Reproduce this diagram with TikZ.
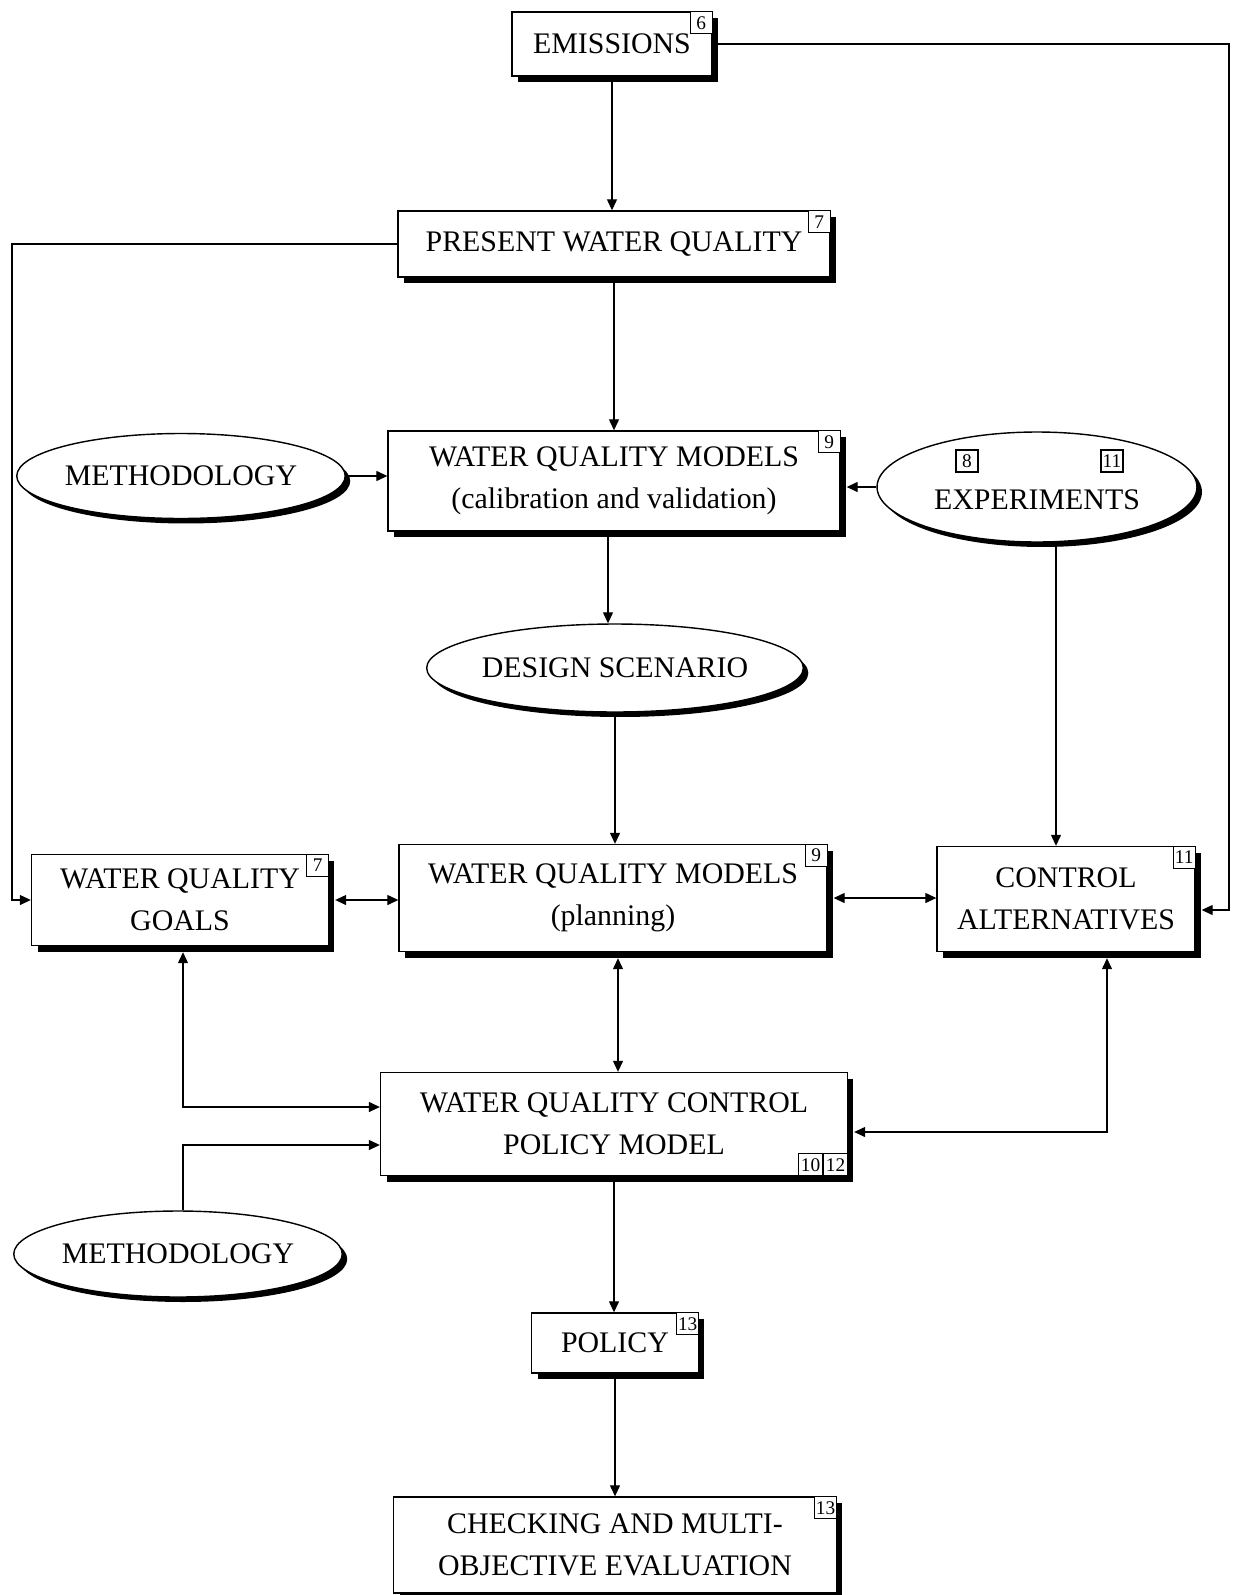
\documentclass[tikz,border=0pt]{standalone}
\usepackage{fontspec}
\setmainfont{Liberation Serif}
\usetikzlibrary{shapes.geometric, arrows.meta, shadows, calc}

\begin{document}
\begin{tikzpicture}[
    x=0.02cm, y=-0.02cm,
    box/.style={rectangle, draw, line width=0.8pt, fill=white, align=center, inner sep=0pt, font=\fontsize{17}{24}\selectfont, drop shadow={shadow xshift=0.12cm, shadow yshift=-0.12cm, fill=black, opacity=1}},
    oval/.style={ellipse, draw, line width=0.8pt, fill=white, align=center, inner sep=0pt, font=\fontsize{17}{24}\selectfont, drop shadow={shadow xshift=0.1cm, shadow yshift=-0.1cm, fill=black, opacity=1}},
    tag/.style={rectangle, draw, line width=0.6pt, fill=white, inner sep=0pt, minimum size=0.44cm, font=\fontsize{11}{11}\selectfont},
    arrow/.style={draw, line width=0.7pt, -{Triangle[length=2.2mm, width=2mm]}},
    dblarrow/.style={draw, line width=0.7pt, {Triangle[length=2.2mm, width=2mm]}-{Triangle[length=2.2mm, width=2mm]}}
]
\useasboundingbox (0,0) rectangle (1232,1595);

\node[box, minimum width=4cm, minimum height=1.28cm] (emis) at (612,44) {EMISSIONS};
\node[box, minimum width=8.64cm, minimum height=1.32cm] (present) at (614,244) {PRESENT WATER QUALITY};
\node[box, minimum width=9.04cm, minimum height=2cm] (wqmcal) at (614,481) {WATER QUALITY MODELS\\(calibration and validation)};
\node[oval, minimum width=6.32cm, minimum height=1.7cm] (meth1) at (181,476) {METHODOLOGY};
\node[oval, minimum width=6.4cm, minimum height=2.2cm, text height=0.88cm, text depth=0pt] (exper) at (1037,487) {EXPERIMENTS};
\node[oval, minimum width=7.04cm, minimum height=1.76cm] (design) at (615,668) {DESIGN SCENARIO};
\node[box, minimum width=5.94cm, minimum height=1.82cm] (goals) at (180,900) {WATER QUALITY\\GOALS};
\node[box, minimum width=8.56cm, minimum height=2.14cm] (wqmplan) at (613,898) {WATER QUALITY MODELS\\(planning)};
\node[box, minimum width=5.16cm, minimum height=2.1cm] (control) at (1066,899) {CONTROL\\ALTERNATIVES};
\node[box, minimum width=9.34cm, minimum height=2.06cm] (cpm) at (614,1124) {WATER QUALITY CONTROL\\POLICY MODEL};
\node[oval, minimum width=6.34cm, minimum height=1.72cm] (meth2) at (178,1254) {METHODOLOGY};
\node[box, minimum width=3.34cm, minimum height=1.2cm] (policy) at (615,1343) {POLICY};
\node[box, minimum width=8.86cm, minimum height=1.92cm] (check) at (615,1545) {CHECKING AND MULTI-\\OBJECTIVE EVALUATION};

% chapter tags
\node[tag, anchor=north east] (emistag) at (emis.north east) {6};
\node[tag, anchor=north east] (presenttag) at (present.north east) {7};
\node[tag, anchor=north east] (wqmcaltag) at (wqmcal.north east) {9};
\node[tag] (expertaga) at ($(exper.center)+(-70,-26)$) {8};
\node[tag] (expertagb) at ($(exper.center)+(75,-26)$) {11};
\node[tag, anchor=north east] (goalstag) at (goals.north east) {7};
\node[tag, anchor=north east] (wqmplantag) at (wqmplan.north east) {9};
\node[tag, anchor=north east] (controltag) at (control.north east) {11};
\node[tag, anchor=south east, minimum width=0.48cm] (cpmtagb) at (cpm.south east) {12};
\node[tag, anchor=south east, minimum width=0.48cm] (cpmtaga) at (cpmtagb.south west) {10};
\node[tag, anchor=north east] (policytag) at (policy.north east) {13};
\node[tag, anchor=north east] (checktag) at (check.north east) {13};

\coordinate (lcorner) at (12,0);
\coordinate (rcorner) at (1229,0);

\draw[arrow] (emis.south) -- (emis.south |- present.north);
\draw[arrow] (emis.east) -- (emis.east -| rcorner) |- ([xshift=0.12cm, yshift=-0.22cm]control.east);
\draw[arrow] (present.west) -- (present.west -| lcorner) |- (goals.west);
\draw[arrow] (present.south) -- (present.south |- wqmcal.north);
\draw[arrow] (meth1.east) -- (meth1.east -| wqmcal.west);
\draw[arrow] (exper.west) -- ([xshift=0.12cm]exper.west -| wqmcal.east);
\draw[arrow] ([xshift=-0.12cm]wqmcal.south) -- ([xshift=-0.12cm]wqmcal.south |- design.north);
\draw[arrow] (design.south) -- (design.south |- wqmplan.north);
\draw[arrow] ([xshift=0.38cm]exper.south) -- ([xshift=0.38cm]exper.south |- control.north);
\draw[dblarrow] ([xshift=0.12cm]goals.east) -- (goals.east -| wqmplan.west);
\draw[dblarrow] ([xshift=0.12cm]wqmplan.east) -- (wqmplan.east -| control.west);
\draw[dblarrow] ([xshift=0.1cm, yshift=-0.12cm]wqmplan.south) -- ([xshift=0.1cm]wqmplan.south |- cpm.north);
\draw[dblarrow] ([xshift=0.06cm, yshift=-0.12cm]goals.south) |- ([yshift=0.34cm]cpm.west);
\draw[dblarrow] ([xshift=0.82cm, yshift=-0.12cm]control.south) |- ([xshift=0.12cm, yshift=-0.16cm]cpm.east);
\draw[arrow] ([xshift=0.1cm]meth2.north) |- ([yshift=-0.42cm]cpm.west);
\draw[arrow] (cpm.south) -- (cpm.south |- policy.north);
\draw[arrow] (policy.south) -- (policy.south |- check.north);

\end{tikzpicture}
\end{document}
